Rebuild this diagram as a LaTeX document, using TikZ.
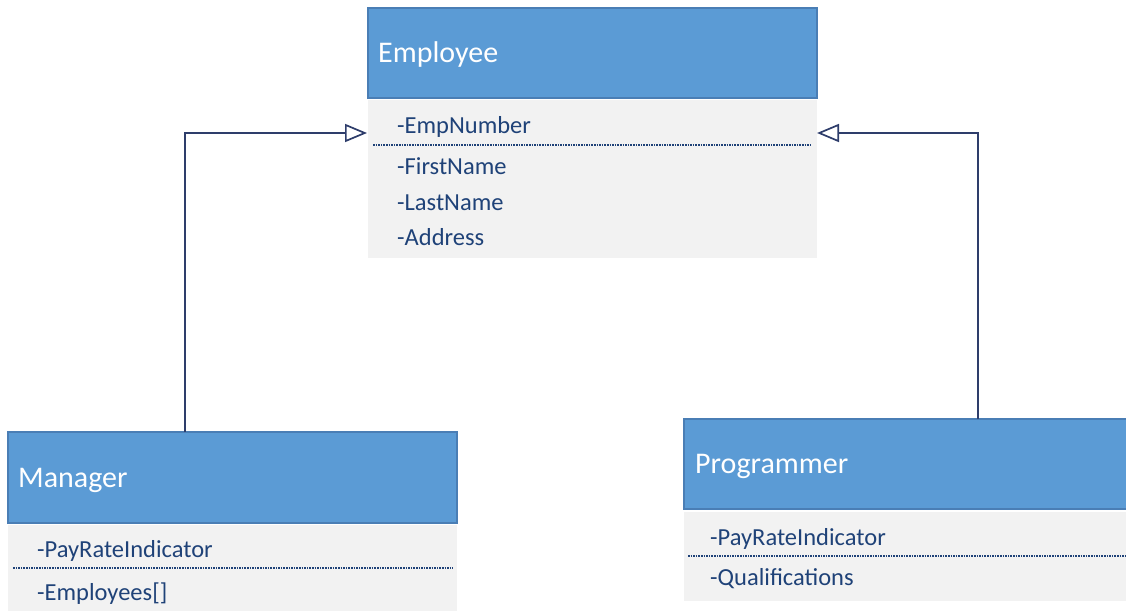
\documentclass[tikz,border=0pt]{standalone}
\usepackage{fontspec}
\setmainfont{Carlito}
\usetikzlibrary{arrows.meta}
\definecolor{hdr}{HTML}{5B9BD5}
\definecolor{hdrline}{HTML}{4A7EB5}
\definecolor{bodyc}{HTML}{F2F2F2}
\definecolor{txt}{HTML}{1F4278}
\definecolor{conn}{HTML}{2E3D6B}
\tikzset{
 hbox/.style={draw=hdrline, line width=1.2pt, fill=hdr, anchor=north west, inner sep=0pt, outer sep=0pt},
 bbox/.style={fill=bodyc, anchor=north west, inner sep=0pt, outer sep=0pt},
 htext/.style={anchor=base west, inner sep=0pt, text=white, font=\fontsize{30}{30}\selectfont},
 atext/.style={anchor=base west, inner sep=0pt, text=txt, font=\fontsize{24.5}{24.5}\selectfont},
 sep/.style={draw=txt, line width=1.8pt, dash pattern=on 1.6pt off 1pt},
 inh/.style={draw=conn, line width=1.7pt, -{Triangle[open, length=22pt, width=18pt, line width=1.7pt]}}
}
\begin{document}
\begin{tikzpicture}[x=1pt, y=-1pt]
\useasboundingbox (0,0) rectangle (1126,610);
% Employee
\node[bbox, minimum width=449pt, minimum height=158pt] (ebody) at (368,100) {};
\node[hbox, minimum width=449pt, minimum height=90pt] (ehead) at (368,8) {};
\node[htext] (ename) at (378,63) {Employee};
\node[atext] (e1) at (397,133) {-EmpNumber};
\node[atext] (e2) at (397,174) {-FirstName};
\node[atext] (e3) at (397,210) {-LastName};
\node[atext] (e4) at (397,245) {-Address};
\draw[sep] ([xshift=5pt]ebody.west |- 0,145) -- ([xshift=-5pt]ebody.east |- 0,145);
% Manager
\node[bbox, minimum width=449pt, minimum height=90pt] (mbody) at (8,525) {};
\node[hbox, minimum width=449pt, minimum height=91pt] (mhead) at (8,432) {};
\node[htext] (mname) at (18,487) {Manager};
\node[atext] (m1) at (37,557) {-PayRateIndicator};
\node[atext] (m2) at (37,600) {-Employees[]};
\draw[sep] ([xshift=5pt]mbody.west |- 0,568) -- ([xshift=-4pt]mbody.east |- 0,568);
% Programmer
\node[bbox, minimum width=450pt, minimum height=89pt] (pbody) at (684,512) {};
\node[hbox, minimum width=450pt, minimum height=90pt] (phead) at (684,419) {};
\node[htext] (pname) at (695,473) {Programmer};
\node[atext] (p1) at (710,545) {-PayRateIndicator};
\node[atext] (p2) at (710,585) {-Qualifications};
\draw[sep] ([xshift=4pt]pbody.west |- 0,556) -- (pbody.east |- 0,556);
% Inheritance connectors
\coordinate (lbend) at (185,133);
\coordinate (rbend) at (978,133);
\draw[inh, shorten >=1pt] (mhead.north -| lbend) |- (ebody.west |- lbend);
\draw[inh, shorten >=0pt] (phead.north -| rbend) |- (ebody.east |- rbend);
\end{tikzpicture}
\end{document}
